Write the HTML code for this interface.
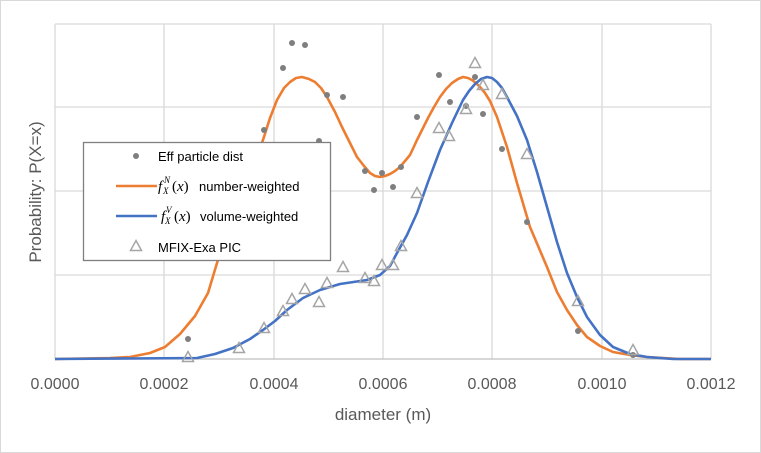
<!DOCTYPE html>
<html><head><meta charset="utf-8"><style>
html,body{margin:0;padding:0;background:#fff}
svg{display:block;font-family:"Liberation Sans",sans-serif}
</style></head><body>
<svg width="761" height="453" viewBox="0 0 761 453" xmlns="http://www.w3.org/2000/svg">
<rect x="0.5" y="0.5" width="760" height="452" fill="#fff" stroke="#d9d9d9"/>
<g stroke="#d9d9d9" stroke-width="1.3">
<line x1="55" y1="24" x2="711" y2="24"/><line x1="55" y1="107" x2="711" y2="107"/>
<line x1="55" y1="191" x2="711" y2="191"/><line x1="55" y1="275" x2="711" y2="275"/>
<line x1="55" y1="24" x2="55" y2="359"/><line x1="164" y1="24" x2="164" y2="359"/>
<line x1="274" y1="24" x2="274" y2="359"/><line x1="383" y1="24" x2="383" y2="359"/>
<line x1="492" y1="24" x2="492" y2="359"/><line x1="602" y1="24" x2="602" y2="359"/>
<line x1="711" y1="24" x2="711" y2="359"/>
</g>
<line x1="55" y1="359" x2="711" y2="359" stroke="#bfbfbf" stroke-width="1.3"/>
<g fill="#595959" font-size="16" text-anchor="middle">
<text x="55" y="389">0.0000</text><text x="164" y="389">0.0002</text><text x="274" y="389">0.0004</text>
<text x="383" y="389">0.0006</text><text x="492" y="389">0.0008</text><text x="602" y="389">0.0010</text>
<text x="711" y="389">0.0012</text>
<text x="383" y="420" font-size="17">diameter (m)</text>
<text transform="translate(41,192) rotate(-90)" font-size="17">Probability: P(X=x)</text>
</g>
<path fill="none" stroke="#ed7d31" stroke-width="2.6" stroke-linejoin="round" d="M55,359 L110,358 L130,357 L150,353 L165,347 L180,334 L195,316 L208,293 L217,263 L230,225 L245,185 L263,140 L270,118 L277,100 L284,88 L290,82 L296,78 L302,77 L309,79 L315,82 L321,88 L327,97 L335,112 L342,127 L350,143 L357,157 L364,166 L370,173 L375,176 L380,177 L385,176 L390,174 L395,171 L400,167 L405,161 L410,155 L417,140 L428,118 L434,107 L440,97 L446,89 L452,83 L458,79 L463,77 L468,78 L472,80 L476,83 L480,87 L485,93 L490,101 L497,117 L507,147 L517,183 L530,227 L547,267 L557,292 L567,310 L577,325 L587,337 L600,346 L613,352 L630,355 L647,357 L680,359 L711,359"/>
<path fill="none" stroke="#4472c4" stroke-width="2.6" stroke-linejoin="round" d="M55,359 L197,358 L215,354 L233,348 L250,339 L263,330 L275,321 L287,310 L303,298 L320,290 L340,284 L367,280 L380,275 L390,266 L397,253 L407,235 L417,213 L428,182 L440,150 L452,123 L463,100 L469,91 L475,84 L481,79 L487,77 L492,78 L497,82 L502,88 L507,97 L517,116 L527,140 L537,172 L547,207 L557,242 L567,273 L577,297 L587,317 L600,335 L613,347 L630,354 L647,357 L673,359 L711,359"/>
<g fill="#7f7f7f">
<circle cx="188" cy="339" r="3"/><circle cx="264" cy="130" r="3"/><circle cx="283" cy="68" r="3"/><circle cx="292" cy="43" r="3"/><circle cx="305" cy="45" r="3"/><circle cx="319" cy="141" r="3"/><circle cx="327" cy="95" r="3"/><circle cx="343" cy="97" r="3"/><circle cx="365" cy="171" r="3"/><circle cx="374" cy="190" r="3"/><circle cx="382" cy="173" r="3"/><circle cx="393" cy="187" r="3"/><circle cx="401" cy="167" r="3"/><circle cx="417" cy="117" r="3"/><circle cx="439" cy="75" r="3"/><circle cx="450" cy="102" r="3"/><circle cx="466" cy="106" r="3"/><circle cx="475" cy="77" r="3"/><circle cx="483" cy="114" r="3"/><circle cx="502" cy="149" r="3"/><circle cx="527" cy="222" r="3"/><circle cx="578" cy="331" r="3"/><circle cx="633" cy="355" r="3"/>
</g>
<defs><path id="t" d="M0,-5.5 L5.5,4.5 L-5.5,4.5 Z" fill="none" stroke="#a5a5a5" stroke-width="1.5"/></defs>
<g>
<use href="#t" x="188" y="357"/><use href="#t" x="239" y="348"/><use href="#t" x="264" y="328"/><use href="#t" x="283" y="311"/><use href="#t" x="292" y="299"/><use href="#t" x="305" y="289"/><use href="#t" x="319" y="302"/><use href="#t" x="327" y="283"/><use href="#t" x="343" y="267"/><use href="#t" x="365" y="278"/><use href="#t" x="374" y="281"/><use href="#t" x="382" y="265"/><use href="#t" x="393" y="265"/><use href="#t" x="401" y="246"/><use href="#t" x="417" y="193"/><use href="#t" x="439" y="128"/><use href="#t" x="449" y="136"/><use href="#t" x="466" y="109"/><use href="#t" x="475" y="63"/><use href="#t" x="483" y="85"/><use href="#t" x="502" y="94"/><use href="#t" x="527" y="154"/><use href="#t" x="578" y="301"/><use href="#t" x="633" y="350"/>
</g>
<rect x="83.5" y="142.5" width="247" height="118" fill="#fff" stroke="#7f7f7f" stroke-width="1.3"/>
<circle cx="136" cy="156" r="3" fill="#7f7f7f"/>
<line x1="116" y1="186" x2="157" y2="186" stroke="#ed7d31" stroke-width="2.6"/>
<line x1="116" y1="216" x2="157" y2="216" stroke="#4472c4" stroke-width="2.6"/>
<use href="#t" x="136" y="246"/>
<g fill="#000" font-family="Liberation Serif" font-style="italic">
<text x="158" y="191" font-size="15">f</text>
<text x="163" y="194" font-size="9">X</text>
<text x="164" y="183" font-size="9">N</text>
<text x="161" y="221" font-size="15">f</text>
<text x="165" y="224" font-size="9">X</text>
<text x="166" y="213" font-size="9">V</text>
</g>
<g fill="#000" font-family="Liberation Serif" font-size="15">
<text x="172" y="191">(<tspan font-style="italic">x</tspan>)</text>
<text x="174" y="221">(<tspan font-style="italic">x</tspan>)</text>
</g>
<g font-size="13" fill="#000">
<text x="158" y="161">Eff particle dist</text>
<text x="199" y="191">number-weighted</text>
<text x="200" y="221">volume-weighted</text>
<text x="158" y="252">MFIX-Exa PIC</text>
</g>
</svg>
</body></html>
